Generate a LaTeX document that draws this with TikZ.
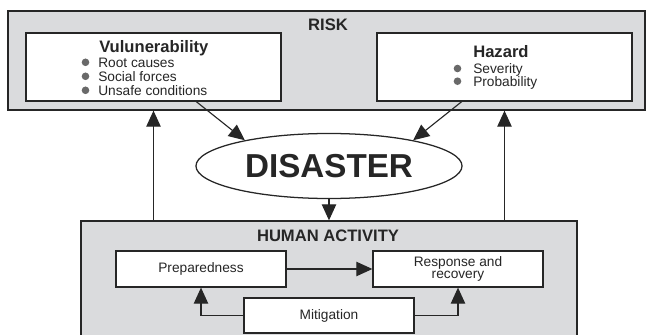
\documentclass[tikz,border=0pt]{standalone}
\usepackage{fontspec}
\setmainfont{Liberation Sans}
\usetikzlibrary{arrows.meta,shapes.geometric}
\definecolor{panel}{RGB}{218,219,221}
\definecolor{ink}{RGB}{38,38,38}
\definecolor{dot}{RGB}{105,105,105}
\tikzset{
  panel/.style={draw=ink,fill=panel,line width=0.9pt,inner sep=0pt},
  card/.style={draw=ink,fill=white,line width=0.9pt,inner sep=0pt,text=ink,font=\fontsize{9.75}{8.6}\selectfont},
  head/.style={inner sep=0pt,text=ink,font=\bfseries\fontsize{11.8}{14}\selectfont},
  item/.style={inner sep=0pt,text=ink,font=\fontsize{9.75}{11}\selectfont},
  arr/.style={draw=ink,line width=0.8pt,-{Triangle[length=0.4cm,width=0.36cm]}},
}
\begin{document}
\begin{tikzpicture}[x=0.025cm,y=-0.025cm]
  \useasboundingbox (0,0) rectangle (647,335);
  % risk panel
  \node[panel,minimum width=15.925cm,minimum height=2.475cm] (risk) at (326.5,60.5) {};
  \node[head,anchor=base] (risklbl) at (328,31) {RISK};
  \node[card,minimum width=6.375cm,minimum height=1.7cm] (vuln) at (153.5,67) {};
  \node[card,minimum width=6.375cm,minimum height=1.7cm] (hazard) at (504.5,67) {};
  \node[head,anchor=base west] (vulnlbl) at (99,52.3) {Vulunerability};
  \fill[dot] (85.5,62.3) circle (0.095cm); \node[item,anchor=base west] (root) at (98,67.3) {Root causes};
  \fill[dot] (85.5,76.3) circle (0.095cm); \node[item,anchor=base west] (social) at (98,81.3) {Social forces};
  \fill[dot] (85.5,90.3) circle (0.095cm); \node[item,anchor=base west] (unsafe) at (98,95.3) {Unsafe conditions};
  \node[head,anchor=base west] (hazlbl) at (473,57) {Hazard};
  \fill[dot] (457.5,68.5) circle (0.095cm); \node[item,anchor=base west] (severity) at (473,73.3) {Severity};
  \fill[dot] (457.5,81.2) circle (0.095cm); \node[item,anchor=base west] (prob) at (473,86) {Probability};
  % disaster
  \node[ellipse,draw=ink,fill=white,line width=0.9pt,inner sep=0pt,minimum width=6.65cm,minimum height=1.625cm,
    text=ink,font=\bfseries\fontsize{23.6}{28}\selectfont] (disaster) at (329,166) {DISASTER};
  % human activity panel
  \node[panel,minimum width=12.4cm,minimum height=2.9cm] (human) at (329,279) {};
  \node[head,anchor=base] (humanlbl) at (328,241.7) {HUMAN ACTIVITY};
  \node[card,minimum width=4.25cm,minimum height=0.9cm] (prep) at (201,269) {Preparedness};
  \node[card,minimum width=4.25cm,minimum height=0.9cm,align=center] (resp) at (458,269) {Response and\\recovery};
  \node[card,minimum width=4.25cm,minimum height=0.875cm] (mitig) at (329,315.5) {Mitigation};
  % connectors
  \draw[arr] (vuln.-39) -- (disaster.163);
  \draw[arr] (hazard.-141) -- (disaster.17);
  \draw[arr] (disaster.south) -- (human.north);
  \draw[arr] (human.north -| vuln.south) -- (risk.south -| vuln.south);
  \draw[arr] (human.north -| hazard.south) -- (risk.south -| hazard.south);
  \draw[arr] (prep) -- (resp);
  \draw[arr] (mitig.west) -| (prep.south);
  \draw[arr] (mitig.east) -| (resp.south);
\end{tikzpicture}
\end{document}
